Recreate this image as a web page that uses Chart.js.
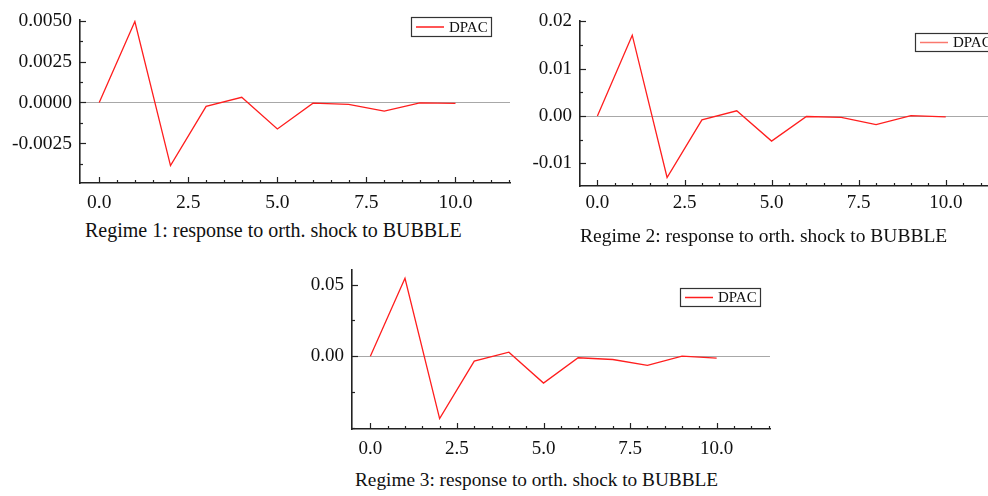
<!DOCTYPE html>
<html>
<head>
<meta charset="utf-8">
<script src="https://cdn.jsdelivr.net/npm/chart.js@4/dist/chart.umd.min.js"></script>
<style>
  html, body { margin: 0; padding: 0; background: #fff; width: 988px; height: 496px; overflow: hidden; position: relative; }
  canvas { position: absolute; }
  .cap { position: absolute; font-family: "Liberation Serif", "Times New Roman", serif; color: #111; line-height: 1; white-space: nowrap; }
</style>
</head>
<body>
<canvas id="c1" width="530" height="215" style="left:0px;top:0px"></canvas>
<canvas id="c2" width="520" height="220" style="left:500px;top:0px"></canvas>
<canvas id="c3" width="520" height="215" style="left:270px;top:250px"></canvas>
<div class="cap" id="t1" style="left:85px;top:220px;font-size:20px"></div>
<div class="cap" id="t2" style="left:580px;top:226px;font-size:19.5px"></div>
<div class="cap" id="t3" style="left:355px;top:470px;font-size:19.3px"></div>
<script>
// ---- data ----
const steps = [0, 1, 2, 3, 4, 5, 6, 7, 8, 9, 10];
const seriesName = "DPAC";
const regime1 = [0, 0.00495, -0.00386, -0.00024, 0.00032, -0.00162, -0.00004, -0.00012, -0.00053, -0.00002, -0.00005];
const regime2 = [0, 0.0171, -0.0130, -0.0008, 0.0011, -0.0053, -0.0001, -0.0003, -0.0018, 0.0001, -0.0002];
const regime3 = [0, 0.0545, -0.0436, -0.0034, 0.0028, -0.0188, -0.0011, -0.0023, -0.0064, 0.0000, -0.0014];
const captions = [
  "Regime 1: response to orth. shock to BUBBLE",
  "Regime 2: response to orth. shock to BUBBLE",
  "Regime 3: response to orth. shock to BUBBLE"
];
const xMajorTicks = [0, 2.5, 5, 7.5, 10];
const xMinorTicks = [0.5, 1, 1.5, 2, 3, 3.5, 4, 4.5, 5.5, 6, 6.5, 7, 8, 8.5, 9, 9.5, 10.5, 11, 11.5];
const yMajorTicks1 = [-0.0025, 0, 0.0025, 0.005];
const yMinorTicks1 = [-0.00375, -0.00125, 0.00125, 0.00375];
const yMajorTicks2 = [-0.01, 0, 0.01, 0.02];
const yMinorTicks2 = [-0.005, 0.005, 0.015];
const yMajorTicks3 = [0, 0.05];
const yMinorTicks3 = [-0.05, -0.025, 0.025];

document.getElementById('t1').textContent = captions[0];
document.getElementById('t2').textContent = captions[1];
document.getElementById('t3').textContent = captions[2];

const SERIF = '"Liberation Serif", "Times New Roman", serif';

const tickMarks = {
  id: 'tickMarks',
  afterDraw(chart, args, o) {
    const { ctx, chartArea: a, scales: { x, y } } = chart;
    ctx.save();
    ctx.strokeStyle = '#222';
    ctx.lineWidth = 1.2;
    const seg = (x1, y1, x2, y2) => { ctx.beginPath(); ctx.moveTo(x1, y1); ctx.lineTo(x2, y2); ctx.stroke(); };
    o.xMajor.forEach(v => { const p = Math.round(x.getPixelForValue(v)) + 0.5; seg(p, a.bottom, p, a.bottom - 6); });
    o.xMinor.forEach(v => { const p = Math.round(x.getPixelForValue(v)) + 0.5; if (p <= a.right + 1) seg(p, a.bottom, p, a.bottom - 3); });
    o.yMajor.forEach(v => { const p = Math.round(y.getPixelForValue(v)) + 0.5; seg(a.left, p, a.left + 6, p); });
    o.yMinor.forEach(v => { const p = Math.round(y.getPixelForValue(v)) + 0.5; if (p >= a.top - 1 && p <= a.bottom) seg(a.left, p, a.left + 3, p); });
    ctx.restore();
  }
};

const boxLegend = {
  id: 'boxLegend',
  afterDraw(chart, args, o) {
    const ctx = chart.ctx;
    const ds = chart.data.datasets[0];
    ctx.save();
    ctx.fillStyle = '#fff';
    ctx.fillRect(o.left, o.top, o.width, o.height);
    ctx.strokeStyle = '#333';
    ctx.lineWidth = 1.2;
    ctx.strokeRect(o.left + 0.5, o.top + 0.5, o.width, o.height);
    const cy = o.top + o.height / 2 + 0.5;
    ctx.strokeStyle = o.lineColor || ds.borderColor;
    ctx.lineWidth = 1.5;
    ctx.beginPath(); ctx.moveTo(o.left + 5, cy); ctx.lineTo(o.left + 33, cy); ctx.stroke();
    ctx.fillStyle = '#111';
    ctx.font = '15px ' + SERIF;
    ctx.textBaseline = 'middle';
    ctx.textAlign = 'left';
    ctx.fillText(ds.label, o.left + 38, cy + 1);
    ctx.restore();
  }
};

function makePanel(id, vals, g) {
  const points = steps.map((s, i) => ({ x: s, y: vals[i] }));
  return new Chart(document.getElementById(id), {
    type: 'line',
    data: { datasets: [{ label: seriesName, data: points, borderColor: 'rgb(255,30,30)', borderWidth: 1.3, pointRadius: 0, tension: 0, fill: false }] },
    options: {
      responsive: false,
      animation: false,
      devicePixelRatio: 1,
      layout: { padding: { left: 0, right: g.padRight, top: g.padTop, bottom: 0 } },
      plugins: {
        legend: { display: false },
        tooltip: { enabled: false },
        tickMarks: { xMajor: xMajorTicks, xMinor: xMinorTicks, yMajor: g.yMajor, yMinor: g.yMinor },
        boxLegend: g.legend
      },
      scales: {
        x: {
          type: 'linear', min: g.xMin, max: g.xMax,
          afterBuildTicks: s => { s.ticks = xMajorTicks.map(v => ({ value: v })); },
          afterFit: s => { s.height = g.xAxisH; },
          ticks: { callback: v => Number(v).toFixed(1), font: { family: SERIF, size: g.font }, color: '#111', padding: g.xPad, maxRotation: 0, autoSkip: false },
          grid: { display: true, drawTicks: false, color: 'rgba(0,0,0,0)' },
          border: { display: true, color: '#222', width: 1.6 }
        },
        y: {
          type: 'linear', min: g.yMin, max: g.yMax,
          afterBuildTicks: s => { s.ticks = g.yMajor.map(v => ({ value: v })); },
          afterFit: s => { s.width = g.yAxisW; },
          ticks: { callback: v => Number(v).toFixed(g.dec), font: { family: SERIF, size: g.font }, color: '#111', padding: 8, autoSkip: false },
          grid: { display: true, drawTicks: false, lineWidth: 1, color: c => (c.tick && Math.abs(c.tick.value) < 1e-12) ? '#a8a8a8' : 'rgba(0,0,0,0)' },
          border: { display: true, color: '#222', width: 1.6 }
        }
      }
    },
    plugins: [tickMarks, boxLegend]
  });
}

makePanel('c1', regime1, {
  xMin: -0.54, xMax: 11.53, yMin: -0.00492, yMax: 0.00506,
  yMajor: yMajorTicks1, yMinor: yMinorTicks1, dec: 4,
  yAxisW: 80, padRight: 20, padTop: 17, xAxisH: 32, xPad: 8, font: 19.5,
  legend: { left: 411, top: 17, width: 80, height: 19 }
});
makePanel('c2', regime2, {
  xMin: -0.5, xMax: 11.5, yMin: -0.0148, yMax: 0.0201,
  yMajor: yMajorTicks2, yMinor: yMinorTicks2, dec: 2,
  yAxisW: 80, padRight: 22, padTop: 21, xAxisH: 34, xPad: 6, font: 19,
  legend: { left: 415, top: 33, width: 80, height: 18, lineColor: 'rgb(250,120,110)' }
});
makePanel('c3', regime3, {
  xMin: -0.53, xMax: 11.54, yMin: -0.0509, yMax: 0.0607,
  yMajor: yMajorTicks3, yMinor: yMinorTicks3, dec: 2,
  yAxisW: 82, padRight: 20, padTop: 16, xAxisH: 36, xPad: 9, font: 19,
  legend: { left: 410, top: 38, width: 80, height: 18 }
});
</script>
</body>
</html>
